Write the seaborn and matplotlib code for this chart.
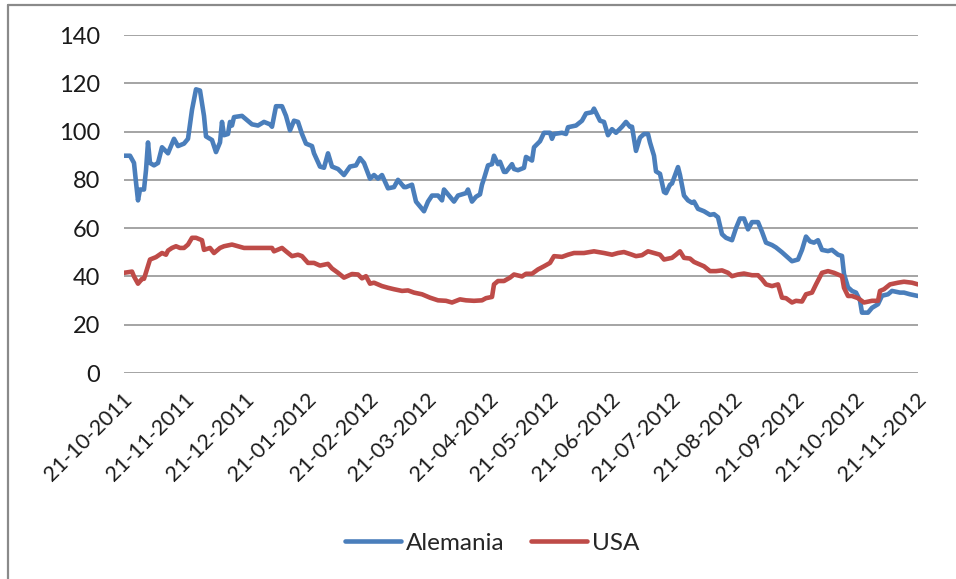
import matplotlib
matplotlib.use("Agg")
import matplotlib.pyplot as plt
import matplotlib.transforms as mtransforms
from matplotlib.lines import Line2D
import seaborn as sns
import pandas as pd

# ---- data (day offsets from start date) ----
start_date = "2011-10-21"
end_date = "2012-11-21"

alemania_days = [0, 3, 5, 6, 7, 8, 10, 11, 12, 13, 15, 17, 19, 22, 25, 27, 30, 32, 34, 36,
                 38, 40, 41, 44, 46, 48, 49, 50, 52, 53, 54, 55, 59, 64, 67, 70, 73, 74, 76, 79,
                 81, 83, 85, 87, 89, 91, 94, 95, 98, 100, 102, 104, 107, 110, 113, 116, 118, 120, 123, 125,
                 127, 129, 132, 135, 137, 140, 141, 144, 146, 148, 150, 152, 154, 157, 159, 160, 163, 165, 167, 171,
                 172, 174, 176, 178, 179, 180, 182, 184, 185, 187, 188, 190, 191, 194, 195, 197, 200, 201, 204, 205,
                 208, 210, 213, 214, 215, 219, 221, 222, 226, 229, 231, 234, 235, 238, 240, 242, 244, 246, 249, 251,
                 253, 254, 256, 258, 260, 262, 263, 265, 266, 268, 270, 271, 273, 274, 277, 278, 280, 282, 284, 285,
                 287, 290, 293, 295, 297, 299, 301, 304, 306, 308, 310, 312, 314, 317, 319, 321, 324, 326, 329, 331,
                 334, 337, 339, 341, 343, 345, 347, 349, 352, 354, 357, 359, 360, 362, 364, 366, 368, 369, 372, 374,
                 377, 379, 382, 384, 388, 390, 393, 397]
alemania_vals = [90, 90, 87, 79, 71.5, 76, 76, 84, 95.5, 87, 86, 87, 93.5, 91, 97, 94, 95, 97, 109, 117.5,
                 117, 106.5, 98, 96.5, 91.5, 95.5, 104, 98.5, 99, 104, 102.5, 106, 106.5, 103, 102.5, 104, 103, 102, 110.5, 110.5,
                 106.5, 100.5, 104.5, 104, 99, 95, 94, 91, 85.5, 85, 91, 85.5, 84.5, 82, 85.5, 86, 89, 87, 80.5, 82,
                 80.5, 82, 76.5, 77, 80, 77, 77, 78, 71, 69, 67, 71, 73.5, 73.5, 71.5, 76, 73, 71, 73.5, 74.5,
                 76, 71, 73, 74, 78, 80.5, 86, 86.5, 90, 86.5, 87.5, 83.3, 83.3, 86.5, 84.5, 84, 85, 89.5, 88, 93.5,
                 96, 99.5, 99.5, 97, 99, 99.5, 99, 101.8, 102.5, 104.5, 107.5, 108, 109.5, 104.5, 104, 98.5, 101, 99.5, 102, 104,
                 102, 102, 92, 97.5, 99, 99, 95.5, 90, 83.5, 82.5, 75, 74.5, 78, 78.5, 85.3, 82, 73.5, 71.5, 70.5, 71,
                 68, 67, 65.5, 65.8, 64.5, 57.5, 56, 55, 60, 64, 64, 59.5, 62.5, 62.5, 58.5, 54, 53, 52, 50, 48.5,
                 46.3, 47, 51, 56.5, 54.5, 54, 55, 51, 50.5, 51, 49, 48.5, 41, 35.5, 34, 33.3, 30, 25, 25, 27,
                 28.5, 32, 32.6, 34, 33.3, 33.3, 32.6, 31.9]

usa_days = [0, 4, 5, 7, 9, 10, 13, 16, 19, 21, 22, 24, 26, 28, 30, 32, 34, 36, 39, 40,
            43, 45, 48, 50, 54, 57, 60, 67, 74, 75, 79, 81, 84, 87, 89, 92, 95, 98, 102, 104,
            107, 110, 114, 117, 119, 121, 123, 125, 129, 132, 135, 139, 142, 145, 149, 153, 157, 161, 164, 168,
            171, 175, 179, 181, 184, 185, 187, 190, 193, 195, 199, 201, 204, 207, 210, 213, 215, 219, 222, 225,
            230, 235, 240, 244, 247, 250, 254, 256, 259, 262, 265, 268, 270, 274, 276, 278, 280, 283, 285, 288,
            290, 293, 296, 299, 302, 304, 307, 310, 314, 317, 319, 321, 324, 327, 329, 331, 334, 336, 339, 341,
            344, 346, 349, 352, 355, 359, 360, 362, 364, 367, 370, 374, 377, 378, 380, 383, 387, 390, 394, 397]
usa_vals = [41.5, 42, 40, 37, 39, 39, 47, 48, 49.7, 49, 50.7, 51.8, 52.5, 51.8, 51.8, 53.2, 56, 56, 55, 51,
            51.8, 49.7, 51.8, 52.5, 53.2, 52.5, 51.8, 51.8, 51.8, 50.4, 51.8, 50.4, 48.4, 49, 48.4, 45.6, 45.6, 44.5, 45.2, 43.3,
            41.5, 39.5, 41, 40.8, 39.2, 40.1, 37, 37.4, 36, 35.3, 34.7, 34, 34.2, 33.3, 32.6, 31.2, 30.1, 29.9, 29.2, 30.5,
            30.1, 29.9, 30.1, 31, 31.5, 36.7, 38.1, 38.1, 39.5, 40.8, 40, 41.1, 41.1, 42.9, 44.2, 45.6, 48.4, 48.1, 49, 49.7,
            49.7, 50.4, 49.7, 49, 49.7, 50.1, 49, 48.4, 48.8, 50.4, 49.7, 49, 47, 47.7, 49, 50.4, 47.7, 47.4, 46, 44.9,
            44.2, 42.2, 42.2, 42.5, 41.5, 40.1, 40.8, 41.2, 40.5, 40.5, 38.8, 36.7, 36, 36.7, 31.2, 31, 29.2, 29.9, 29.6, 32.6,
            33.3, 36.7, 41.5, 42.2, 41.5, 40.1, 35.3, 31.9, 31.9, 31, 29.2, 29.9, 29.9, 34, 34.7, 36.7, 37.4, 37.8, 37.4, 36.7]

series_names = ["Alemania", "USA"]
series_colors = ["#4A7EBB", "#BE4B48"]
y_ticks = [0, 20, 40, 60, 80, 100, 120, 140]
x_tick_labels = ["21-10-2011", "21-11-2011", "21-12-2011", "21-01-2012", "21-02-2012",
                 "21-03-2012", "21-04-2012", "21-05-2012", "21-06-2012", "21-07-2012",
                 "21-08-2012", "21-09-2012", "21-10-2012", "21-11-2012"]

# ---- build long-format table ----
t0 = pd.Timestamp(start_date)
df = pd.concat([
    pd.DataFrame({"fecha": t0 + pd.to_timedelta(alemania_days, unit="D"),
                  "valor": alemania_vals, "serie": series_names[0]}),
    pd.DataFrame({"fecha": t0 + pd.to_timedelta(usa_days, unit="D"),
                  "valor": usa_vals, "serie": series_names[1]}),
], ignore_index=True)

# ---- plot ----
sns.set_theme(style="white")
plt.rcParams["font.family"] = ["Lato", "DejaVu Sans"]

fig = plt.figure(figsize=(9.56, 5.79), dpi=100)
ax = fig.add_axes([124 / 956, 1 - 373 / 579, (918 - 124) / 956, (373 - 35) / 579])

sns.lineplot(data=df, x="fecha", y="valor", hue="serie", hue_order=series_names,
             palette=dict(zip(series_names, series_colors)), linewidth=3.3,
             estimator=None, sort=True, ax=ax, legend=True)

ax.set_xlim(pd.Timestamp(start_date), pd.Timestamp(end_date))
ax.set_ylim(0, 140)
ax.set_yticks(y_ticks)
ax.set_yticklabels([str(v) for v in y_ticks])

tick_dates = pd.to_datetime(x_tick_labels, format="%d-%m-%Y")
ax.set_xticks(tick_dates)
ax.set_xticklabels(x_tick_labels)

for s in ax.spines.values():
    s.set_visible(False)
ax.grid(axis="y", color="#8C8C8C", linewidth=1.1)
ax.grid(axis="x", visible=False)
ax.set_axisbelow(True)
ax.set_xlabel("")
ax.set_ylabel("")

ax.tick_params(axis="y", length=0, pad=17, labelsize=17, labelcolor="#1a1a1a")
ax.tick_params(axis="x", length=0, pad=17, labelsize=15.5, labelcolor="#1a1a1a")
shift = mtransforms.ScaledTranslation(5 / 100, 0, fig.dpi_scale_trans)
for lab in ax.get_xticklabels():
    lab.set_rotation(45)
    lab.set_ha("right")
    lab.set_va("center")
    lab.set_rotation_mode("anchor")
    lab.set_transform(lab.get_transform() + shift)

leg = ax.legend(handles=ax.get_legend_handles_labels()[0], labels=series_names,
                loc="center", bbox_to_anchor=(0.515, 0.062), bbox_transform=fig.transFigure,
                ncol=2, frameon=False, fontsize=17.5, handlelength=2.3, handletextpad=0.2,
                columnspacing=1.1)
for h in leg.get_lines():
    h.set_linewidth(3.3)

# outer chart frame (top and left edges visible)
fig.add_artist(Line2D([8 / 956, 8 / 956], [0, 1 - 5 / 579], transform=fig.transFigure,
                      color="#8A8A8A", linewidth=1.6))
fig.add_artist(Line2D([8 / 956, 1], [1 - 5 / 579, 1 - 5 / 579], transform=fig.transFigure,
                      color="#8A8A8A", linewidth=1.6))

fig.savefig("out.png", dpi=100)
